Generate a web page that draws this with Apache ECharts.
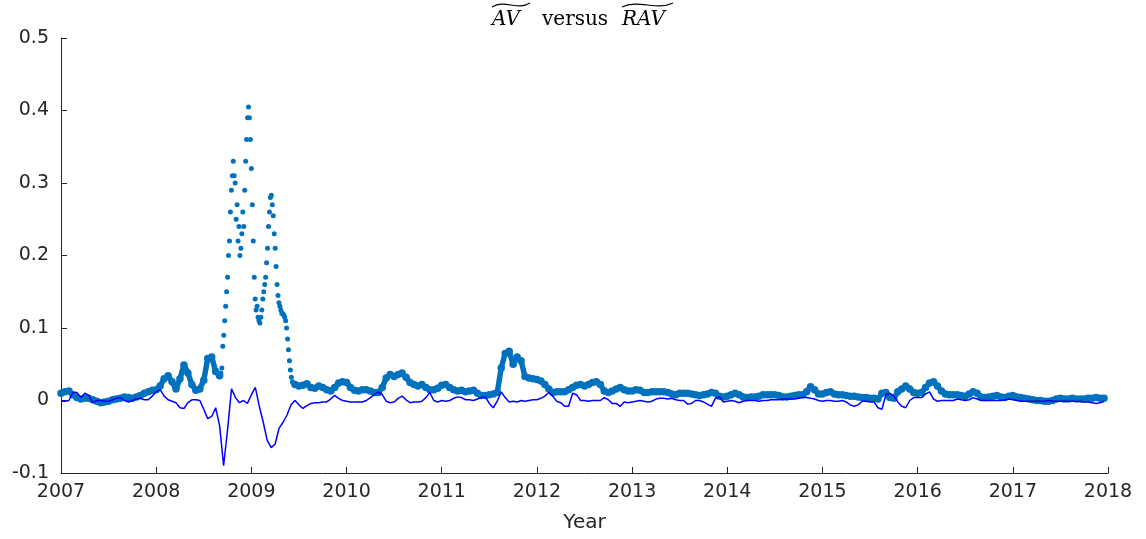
<!DOCTYPE html>
<html>
<head>
<meta charset="utf-8">
<script src="https://cdn.jsdelivr.net/npm/echarts@6/dist/echarts.min.js"></script>
<style>
  html, body { margin: 0; padding: 0; background: #fff; }
  #chart { width: 1146px; height: 539px; }
</style>
</head>
<body>
<div id="chart"></div>
<script>
// AV: half-month samples, denser through the 2008-09 spike
var avEarly = [ // 2007.0 .. 2008.667, step 1/24
  0.010, 0.012, 0.013, 0.008, 0.004, 0.002, 0.003, 0.003, 0.001, -0.001,
  -0.003, -0.002, -0.001, 0.001, 0.002, 0.003, 0.005, 0.004, 0.003, 0.005,
  0.007, 0.010, 0.012, 0.014, 0.015, 0.020, 0.030, 0.034, 0.026, 0.016,
  0.030, 0.049, 0.038, 0.022, 0.014, 0.016, 0.028, 0.058, 0.060, 0.040,
  0.034
]
var avCrisis = [ // 2008.68 .. 2009.44, step 0.01
  0.038, 0.045, 0.075, 0.090, 0.110, 0.130, 0.150, 0.170, 0.200, 0.220,
  0.260, 0.290, 0.310, 0.330, 0.310, 0.300, 0.250, 0.270, 0.220, 0.240,
  0.200, 0.210, 0.230, 0.260, 0.240, 0.290, 0.330, 0.360, 0.390, 0.405,
  0.390, 0.360, 0.320, 0.270, 0.220, 0.170, 0.140, 0.125, 0.130, 0.115,
  0.110, 0.107, 0.115, 0.125, 0.140, 0.150, 0.160, 0.170, 0.190, 0.210,
  0.240, 0.260, 0.280, 0.283, 0.270, 0.255, 0.230, 0.210, 0.185, 0.160,
  0.145, 0.135, 0.130, 0.125, 0.120, 0.120, 0.118, 0.115, 0.110, 0.100,
  0.085, 0.070, 0.055, 0.042, 0.032, 0.026, 0.024
]
var avLate = [ // 2009.458 .. 2017.958, step 1/24
  0.022, 0.020, 0.021, 0.023, 0.018, 0.017, 0.020, 0.018, 0.015, 0.013,
  0.018, 0.024, 0.026, 0.025, 0.018, 0.014, 0.013, 0.015, 0.015, 0.013,
  0.011, 0.011, 0.018, 0.031, 0.036, 0.033, 0.036, 0.038, 0.032, 0.025,
  0.022, 0.020, 0.022, 0.018, 0.015, 0.015, 0.017, 0.021, 0.022, 0.018,
  0.015, 0.013, 0.014, 0.012, 0.013, 0.014, 0.010, 0.007, 0.007, 0.008,
  0.009, 0.011, 0.045, 0.065, 0.068, 0.050, 0.060, 0.055, 0.033, 0.031,
  0.030, 0.029, 0.027, 0.022, 0.016, 0.011, 0.012, 0.012, 0.012, 0.015,
  0.018, 0.021, 0.022, 0.020, 0.022, 0.025, 0.026, 0.022, 0.013, 0.011,
  0.013, 0.016, 0.018, 0.015, 0.013, 0.013, 0.015, 0.014, 0.011, 0.011,
  0.012, 0.012, 0.012, 0.012, 0.011, 0.009, 0.008, 0.010, 0.010, 0.010,
  0.009, 0.008, 0.007, 0.008, 0.009, 0.011, 0.010, 0.006, 0.005, 0.006,
  0.008, 0.010, 0.008, 0.005, 0.004, 0.005, 0.005, 0.006, 0.008, 0.008,
  0.008, 0.008, 0.007, 0.005, 0.005, 0.006, 0.007, 0.008, 0.008, 0.012,
  0.019, 0.015, 0.009, 0.009, 0.011, 0.012, 0.009, 0.008, 0.008, 0.007,
  0.006, 0.006, 0.005, 0.004, 0.004, 0.003, 0.003, 0.002, 0.010, 0.011,
  0.004, 0.003, 0.012, 0.016, 0.020, 0.016, 0.011, 0.010, 0.011, 0.018,
  0.024, 0.026, 0.020, 0.013, 0.009, 0.008, 0.008, 0.008, 0.007, 0.006,
  0.009, 0.012, 0.010, 0.005, 0.004, 0.005, 0.006, 0.007, 0.005, 0.004,
  0.006, 0.007, 0.005, 0.004, 0.003, 0.002, 0.001, 0.000, 0.000, -0.001,
  -0.001, 0.000, 0.002, 0.003, 0.002, 0.002, 0.003, 0.002, 0.002, 0.002,
  0.003, 0.003, 0.004, 0.003, 0.003
]
// RAV: 2007.0 .. 2017.958, step 1/24
var ravValues = [
  -0.001, -0.001, 0.000, 0.011, 0.011, 0.004, 0.010, 0.007, -0.003, 0.000,
  0.000, -0.001, -0.001, 0.001, 0.003, 0.004, 0.000, -0.002, 0.000, 0.002,
  0.003, 0.001, 0.001, 0.006, 0.012, 0.015, 0.006, 0.001, -0.001, -0.003,
  -0.010, -0.011, -0.003, 0.001, 0.001, 0.000, -0.012, -0.025, -0.022, -0.010,
  -0.035, -0.090, -0.040, 0.016, 0.004, -0.003, 0.000, -0.004, 0.008, 0.018,
  -0.008, -0.030, -0.055, -0.065, -0.060, -0.038, -0.030, -0.020, -0.006, 0.000,
  -0.006, -0.011, -0.007, -0.004, -0.003, -0.003, -0.002, -0.002, 0.002, 0.007,
  0.003, 0.000, -0.001, -0.002, -0.002, -0.002, -0.002, 0.000, 0.004, 0.008,
  0.012, 0.008, -0.001, -0.003, -0.002, 0.003, 0.006, 0.001, -0.003, -0.002,
  -0.002, -0.001, 0.004, 0.011, 0.000, -0.002, 0.000, -0.001, 0.000, 0.003,
  0.005, 0.004, 0.001, 0.001, 0.000, 0.002, 0.004, 0.005, -0.004, -0.010,
  -0.001, 0.012, 0.004, -0.002, -0.001, -0.002, 0.000, -0.001, 0.000, 0.001,
  0.001, 0.003, 0.006, 0.011, 0.006, -0.001, -0.003, -0.008, -0.008, 0.010,
  0.008, 0.000, 0.000, -0.001, 0.000, 0.000, 0.000, 0.004, 0.001, -0.004,
  -0.004, -0.008, -0.002, -0.003, -0.002, -0.001, 0.000, -0.001, -0.002, -0.001,
  0.002, 0.003, 0.003, 0.002, 0.003, 0.001, 0.000, 0.000, -0.005, -0.004,
  0.000, 0.000, -0.002, -0.005, -0.008, 0.003, 0.005, -0.002, -0.001, 0.000,
  -0.001, -0.003, -0.001, 0.000, 0.000, 0.000, -0.001, 0.000, 0.000, 0.001,
  0.001, 0.001, 0.002, 0.002, 0.002, 0.002, 0.003, 0.004, 0.004, 0.003,
  0.002, 0.000, -0.001, 0.000, 0.000, -0.001, -0.001, 0.000, -0.002, -0.006,
  -0.008, -0.006, -0.001, -0.001, -0.002, -0.002, -0.010, -0.012, 0.008, 0.010,
  0.006, -0.002, -0.008, -0.010, 0.000, 0.004, 0.004, 0.004, 0.009, 0.012,
  0.002, -0.001, 0.000, 0.000, 0.000, 0.000, 0.002, 0.001, 0.000, 0.001,
  0.004, 0.002, 0.000, 0.000, 0.000, 0.000, 0.000, 0.000, 0.001, 0.002,
  0.001, 0.000, -0.001, -0.001, -0.001, -0.001, -0.001, -0.001, -0.001, 0.000,
  -0.001, -0.001, -0.001, -0.001, -0.001, -0.001, -0.001, -0.001, -0.002, -0.002,
  -0.003, -0.004, -0.003, -0.001
]

var axisColor = '#262626'
var labelFont = 'DejaVu Sans'
var avColor = '#0072BD'

var avData = []
var avBand = [] // same points, joined outside the crisis so the dense dots read as one band
avEarly.forEach(function (v, i) {
  avData.push([2007 + i / 24, v])
  avBand.push([2007 + i / 24, v])
})
avBand.push([2008.675, null])
avCrisis.forEach(function (v, j) { avData.push([2008.68 + j * 0.01, v]) })
avLate.forEach(function (v, k) {
  avData.push([2007 + (59 + k) / 24, v])
  avBand.push([2007 + (59 + k) / 24, v])
})

var ravData = ravValues.map(function (v, i) { return [2007 + i / 24, v] })

var crisisStart = avEarly.length
var crisisEnd = avEarly.length + avCrisis.length

var chart = echarts.init(document.getElementById('chart'))
var option = {
  animation: false,
  backgroundColor: '#fff',
  grid: { left: 61, right: 38, top: 38, bottom: 66, containLabel: false, outerBoundsMode: 'none' },
  graphic: [
    { type: 'text', left: 492, top: 10, style: { text: 'AV', font: 'italic 20px "DejaVu Serif"', fill: '#000' } },
    { type: 'text', left: 542, top: 10, style: { text: 'versus', font: '20px "DejaVu Serif"', fill: '#000' } },
    { type: 'text', left: 622, top: 10, style: { text: 'RAV', font: 'italic 20px "DejaVu Serif"', fill: '#000' } },
    {
      type: 'bezierCurve',
      shape: { x1: 492, y1: 7, cpx1: 505, cpy1: -1, cpx2: 517, cpy2: 11, x2: 530, y2: 3 },
      style: { stroke: '#000', lineWidth: 1.1, fill: null }
    },
    {
      type: 'bezierCurve',
      shape: { x1: 622, y1: 7, cpx1: 639, cpy1: -1, cpx2: 656, cpy2: 11, x2: 673, y2: 3 },
      style: { stroke: '#000', lineWidth: 1.1, fill: null }
    }
  ],
  xAxis: {
    type: 'value',
    min: 2007,
    max: 2018,
    interval: 1,
    name: 'Year',
    nameLocation: 'middle',
    nameGap: 40,
    nameTextStyle: { color: axisColor, fontSize: 20, fontFamily: labelFont },
    axisLine: { show: true, onZero: false, lineStyle: { color: axisColor, width: 1 } },
    axisTick: { show: true, inside: true, length: 6, lineStyle: { color: axisColor } },
    axisLabel: {
      margin: 10,
      color: axisColor,
      fontSize: 19,
      fontFamily: labelFont,
      formatter: function (v) { return String(v) }
    },
    splitLine: { show: false }
  },
  yAxis: {
    type: 'value',
    min: -0.1,
    max: 0.5,
    interval: 0.1,
    axisLine: { show: true, onZero: false, lineStyle: { color: axisColor, width: 1 } },
    axisTick: { show: true, inside: true, length: 6, lineStyle: { color: axisColor } },
    axisLabel: { margin: 12, color: axisColor, fontSize: 19, fontFamily: labelFont },
    splitLine: { show: false }
  },
  series: [
    {
      name: 'AV band',
      type: 'line',
      data: avBand,
      showSymbol: false,
      connectNulls: false,
      z: 1,
      lineStyle: { color: avColor, width: 5.5, cap: 'round', join: 'round' }
    },
    {
      name: 'AV',
      type: 'scatter',
      data: avData,
      symbol: 'circle',
      z: 2,
      symbolSize: function (val, params) {
        return params.dataIndex >= crisisStart && params.dataIndex < crisisEnd ? 5 : 7.5
      },
      itemStyle: { color: avColor, opacity: 1 }
    },
    {
      name: 'RAV',
      type: 'line',
      data: ravData,
      showSymbol: false,
      z: 3,
      lineStyle: { color: '#0000FF', width: 1.5 }
    }
  ]
}
chart.setOption(option, true)
</script>
</body>
</html>
